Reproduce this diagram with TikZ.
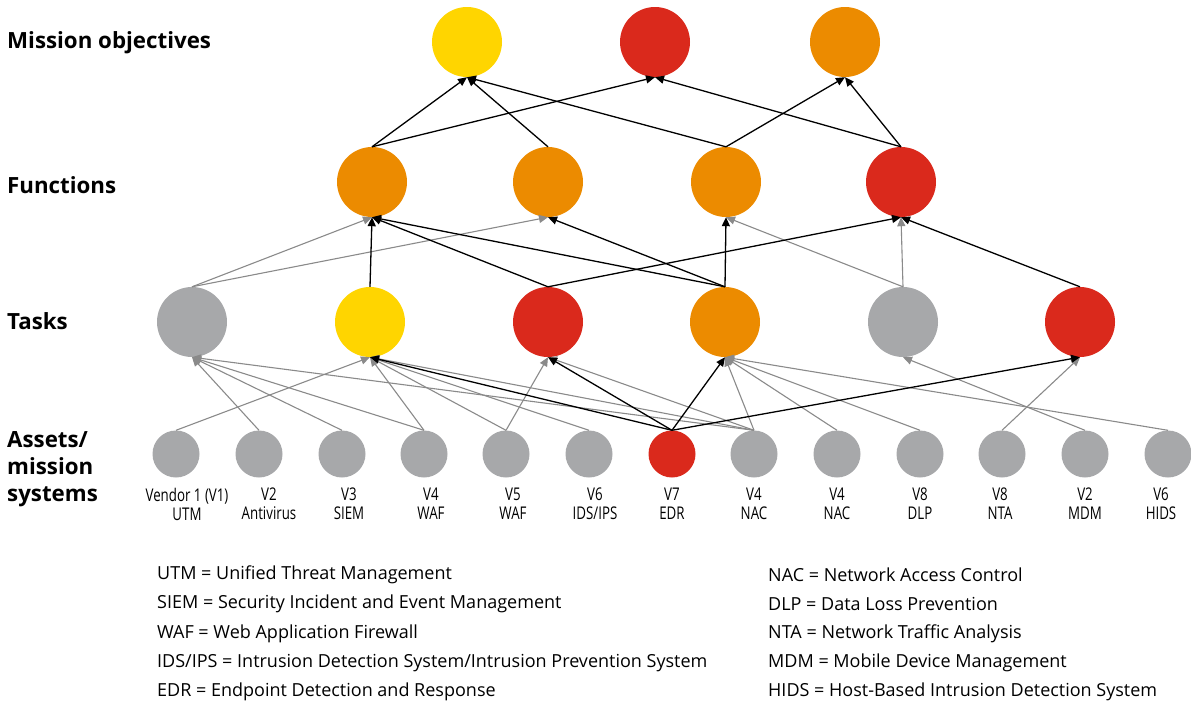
\documentclass[tikz,border=0pt]{standalone}
\usepackage{fontspec}
\setmainfont{Open Sans}
\newfontfamily\condfont{Open Sans}[FakeStretch=0.76]
\usepackage{tikz}
\usetikzlibrary{arrows.meta}
\usetikzlibrary{positioning}

\definecolor{objyellow}{HTML}{FFD500}
\definecolor{objred}{HTML}{DA291C}
\definecolor{objorange}{HTML}{EC8B00}
\definecolor{objgray}{HTML}{A7A8AA}
\definecolor{linkgray}{HTML}{8A8A8A}

\tikzset{
    big/.style={circle, minimum size=70pt, inner sep=0pt},
    asset/.style={circle, fill=objgray, minimum size=47pt, inner sep=0pt},
    sys/.style={font=\condfont\fontsize{17.5}{19}\selectfont, align=center, inner sep=0pt},
    layer/.style={anchor=west, align=left, inner sep=0pt, font=\bfseries\fontsize{22.3}{27}\selectfont},
    legend/.style={anchor=west, inner sep=0pt, font=\fontsize{18}{20}\selectfont},
    blk/.style={-{Triangle[length=9pt,width=8pt]}, line width=1.3pt, black},
    gry/.style={-{Triangle[length=9pt,width=8pt]}, line width=1.1pt, linkgray}
}

\begin{document}
\begin{tikzpicture}[x=1pt, y=-1pt]
        \useasboundingbox (0,0) rectangle (1191,704);
        % layer names
        \node[layer] (Lmo) at (7,43) {Mission objectives};
        \node[layer] (Lfn) at (7,185) {Functions};
        \node[layer] (Ltk) at (7,321) {Tasks};
        \node[layer] (Las) at (7,469) {Assets/\\mission\\systems};

        % mission objectives
        \node[big, fill=objyellow] (M1) at (467,42) {};
        \node[big, fill=objred] (M2) at (655,42) {};
        \node[big, fill=objorange] (M3) at (845,42) {};

        % functions
        \node[big, fill=objorange] (F1) at (372,182) {};
        \node[big, fill=objorange] (F2) at (548,182) {};
        \node[big, fill=objorange] (F3) at (726,182) {};
        \node[big, fill=objred] (F4) at (901,182) {};

        % tasks
        \node[big, fill=objgray] (T1) at (192,322) {};
        \node[big, fill=objyellow] (T2) at (370,322) {};
        \node[big, fill=objred] (T3) at (548,322) {};
        \node[big, fill=objorange] (T4) at (725,322) {};
        \node[big, fill=objgray] (T5) at (903,322) {};
        \node[big, fill=objred] (T6) at (1080,322) {};

        % assets
        \node[asset] (A1) at (176,454) {};
        \node[asset] (A2) at (259,454) {};
        \node[asset] (A3) at (342,454) {};
        \node[asset] (A4) at (424,454) {};
        \node[asset] (A5) at (506,454) {};
        \node[asset] (A6) at (589,454) {};
        \node[asset, fill=objred] (A7) at (672,454) {};
        \node[asset] (A8) at (754,454) {};
        \node[asset] (A9) at (837,454) {};
        \node[asset] (A10) at (920,454) {};
        \node[asset] (A11) at (1002,454) {};
        \node[asset] (A12) at (1085,454) {};
        \node[asset] (A13) at (1168,454) {};

        \node[sys, below=10pt of A1, xshift=11pt] (S1) {Vendor 1 (V1)\\UTM};
        \node[sys, below=10pt of A2, xshift=10pt] (S2) {V2\\Antivirus};
        \node[sys, below=10pt of A3, xshift=7pt] (S3) {V3\\SIEM};
        \node[sys, below=10pt of A4, xshift=7pt] (S4) {V4\\WAF};
        \node[sys, below=10pt of A5, xshift=7pt] (S5) {V5\\WAF};
        \node[sys, below=10pt of A6, xshift=6pt] (S6) {V6\\IDS/IPS};
        \node[sys, below=10pt of A7] (S7) {V7\\EDR};
        \node[sys, below=10pt of A8] (S8) {V4\\NAC};
        \node[sys, below=10pt of A9] (S9) {V4\\NAC};
        \node[sys, below=10pt of A10] (S10) {V8\\DLP};
        \node[sys, below=10pt of A11, xshift=-2pt] (S11) {V8\\NTA};
        \node[sys, below=10pt of A12] (S12) {V2\\MDM};
        \node[sys, below=10pt of A13, xshift=-7pt] (S13) {V6\\HIDS};

        % grey links
        \path[gry]
            (A1.north) edge (T2.south)
            (A2.north) edge (T1.south)
            (A3.north) edge (T1.south)
            (A4.north) edge (T1.south)
            (A4.north) edge (T2.south)
            (A5.north) edge (T2.south)
            (A5.north) edge (T3.south)
            (A6.north) edge (T2.south)
            (A8.north) edge (T1.south)
            (A8.north) edge (T2.south)
            (A8.north) edge (T3.south)
            (A8.north) edge (T4.south)
            (A9.north) edge (T4.south)
            (A10.north) edge (T4.south)
            (A11.north) edge (T6.south)
            (A12.north) edge (T5.south)
            (A13.north) edge (T4.south)
            (T1.north) edge (F1.south)
            (T1.north) edge (F2.south)
            (T5.north) edge (F3.south)
            (T5.north) edge (F4.south);

        % black links
        \path[blk]
            (A7.north) edge (T2.south)
            (A7.north) edge (T3.south)
            (A7.north) edge (T4.south)
            (A7.north) edge (T6.south)
            (T2.north) edge (F1.south)
            (T3.north) edge (F1.south)
            (T3.north) edge (F4.south)
            (T4.north) edge (F1.south)
            (T4.north) edge (F2.south)
            (T4.north) edge (F3.south)
            (T6.north) edge (F4.south)
            (F1.north) edge (M1.south)
            (F1.north) edge (M2.south)
            (F2.north) edge (M1.south)
            (F3.north) edge (M1.south)
            (F3.north) edge (M3.south)
            (F4.north) edge (M2.south)
            (F4.north) edge (M3.south);

        % legend
        \node[legend] (G1) at (157,575) {UTM = Unified Threat Management};
        \node[legend] (G2) at (157,604) {SIEM = Security Incident and Event Management};
        \node[legend] (G3) at (157,634) {WAF = Web Application Firewall};
        \node[legend] (G4) at (157,663) {IDS/IPS = Intrusion Detection System/Intrusion Prevention System};
        \node[legend] (G5) at (157,692) {EDR = Endpoint Detection and Response};
        \node[legend] (G6) at (768,575) {NAC = Network Access Control};
        \node[legend] (G7) at (768,604) {DLP = Data Loss Prevention};
        \node[legend] (G8) at (768,634) {NTA = Network Traffic Analysis};
        \node[legend] (G9) at (768,663) {MDM = Mobile Device Management};
        \node[legend] (G10) at (768,692) {HIDS = Host-Based Intrusion Detection System};
    \end{tikzpicture}
\end{document}
